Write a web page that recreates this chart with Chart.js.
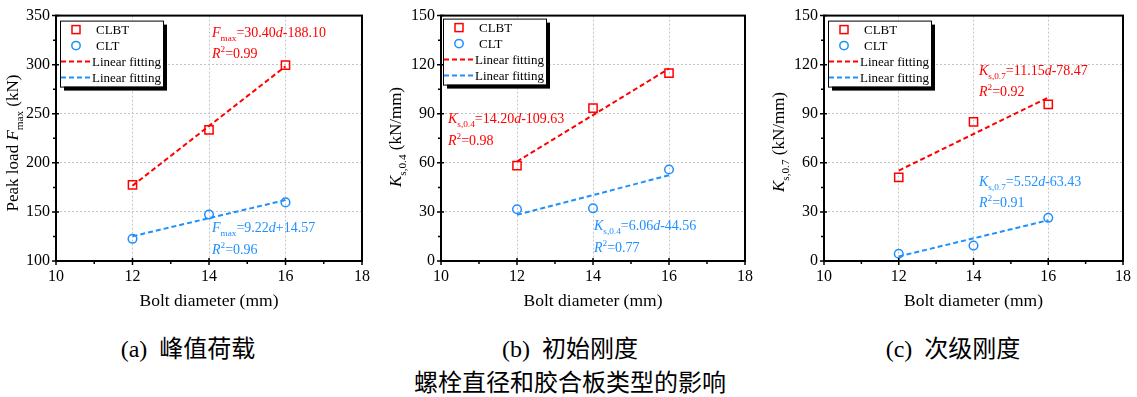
<!DOCTYPE html>
<html><head><meta charset="utf-8">
<script src="https://cdn.jsdelivr.net/npm/chart.js@4.4.1/dist/chart.umd.min.js"></script>
<style>
html,body{margin:0;padding:0;background:#fff;}
body{width:1137px;height:397px;position:relative;overflow:hidden;}
canvas{position:absolute;top:0;}
.cap{position:absolute;font-size:24px;line-height:30px;white-space:nowrap;transform:translateX(-50%);color:#000;}
.lat{font-family:"Liberation Serif";}
.cjk{font-family:"Noto Sans CJK SC";}
</style></head>
<body>
<canvas id="ca" width="379" height="318" style="left:0px"></canvas>
<canvas id="cb" width="379" height="318" style="left:380px"></canvas>
<canvas id="cc" width="377" height="318" style="left:760px"></canvas>
<div class="cap" style="left:188px;top:332px"><span class="lat">(a) </span><span class="cjk" style="margin-left:6px">峰值荷载</span></div>
<div class="cap" style="left:570px;top:332px"><span class="lat">(b) </span><span class="cjk" style="margin-left:6px">初始刚度</span></div>
<div class="cap" style="left:953px;top:332px"><span class="lat">(c) </span><span class="cjk" style="margin-left:6px">次级刚度</span></div>
<div class="cap cjk" style="left:570px;top:366px">螺栓直径和胶合板类型的影响</div>
<script>
// ---- data ----
const diameters = [12, 14, 16];
const fitX = [12, 16];
const xTicks = [10, 12, 14, 16, 18];
const peakTicks = [100, 150, 200, 250, 300, 350];
const stiffTicks = [0, 30, 60, 90, 120, 150];
const legendLabels = ['CLBT', 'CLT', 'Linear fitting', 'Linear fitting'];
const xTitle = 'Bolt diameter (mm)';

const peakCLBT = [177.6, 233.5, 299.6];
const peakCLT = [122.6, 147.3, 159.7];
const peakFitCLBT = [176.7, 298.3];
const peakFitCLT = [125.2, 162.1];

const k04CLBT = [58.3, 93.5, 114.8];
const k04CLT = [31.6, 32.2, 55.9];
const k04FitCLBT = [60.8, 117.6];
const k04FitCLT = [28.2, 52.4];

const k07CLBT = [51.1, 85.0, 95.7];
const k07CLT = [4.4, 9.4, 26.4];
const k07FitCLBT = [55.3, 99.9];
const k07FitCLT = [2.8, 24.9];

const RED = '#ff0000', BLUE = '#1e90ff';
const SERIF = '"Liberation Serif", "Times New Roman", serif';

function drawRich(ctx, segs, x, y, S, color, align) {
  let w = 0;
  const items = segs.map(s => {
    const size = (s.sub || s.sup) ? S * 0.66 : S;
    const font = (s.it ? 'italic ' : '') + size + 'px ' + SERIF;
    ctx.font = font;
    const mw = ctx.measureText(s.t).width;
    const dy = s.sub ? S * 0.3 : (s.sup ? -S * 0.4 : 0);
    w += mw;
    return {t: s.t, font, w: mw, dy};
  });
  let cx = align === 'center' ? x - w / 2 : x;
  ctx.fillStyle = color; ctx.textBaseline = 'alphabetic'; ctx.textAlign = 'left';
  for (const it of items) { ctx.font = it.font; ctx.fillText(it.t, cx, y + it.dy); cx += it.w; }
}

function mids(arr) { const r = []; for (let i = 0; i < arr.length - 1; i++) r.push((arr[i] + arr[i + 1]) / 2); return r; }

function makeDeco(cfg) {
  return {
    id: 'deco' + cfg.id,
    afterDraw(chart) {
      const ctx = chart.ctx, ca = chart.chartArea, sx = chart.scales.x, sy = chart.scales.y;
      ctx.save();
      // frame
      ctx.strokeStyle = '#000'; ctx.lineWidth = 2; ctx.setLineDash([]);
      ctx.strokeRect(ca.left, ca.top, ca.right - ca.left, ca.bottom - ca.top);
      ctx.lineWidth = 1.5;
      ctx.beginPath();
      xTicks.forEach(v => { const p = sx.getPixelForValue(v); ctx.moveTo(p, ca.bottom - 3); ctx.lineTo(p, ca.bottom + 4); });
      mids(xTicks).forEach(v => { const p = sx.getPixelForValue(v); ctx.moveTo(p, ca.bottom); ctx.lineTo(p, ca.bottom + 3); });
      cfg.yTicks.forEach(v => { const p = sy.getPixelForValue(v); ctx.moveTo(ca.left - 4, p); ctx.lineTo(ca.left + 3, p); });
      mids(cfg.yTicks).forEach(v => { const p = sy.getPixelForValue(v); ctx.moveTo(ca.left - 3, p); ctx.lineTo(ca.left, p); });
      ctx.stroke();
      // y title
      ctx.save();
      ctx.translate(cfg.ytX, cfg.ytY);
      ctx.rotate(-Math.PI / 2);
      drawRich(ctx, cfg.yTitle, 0, 17 * 0.35, 17, '#000', 'center');
      ctx.restore();
      // annotations
      cfg.notes.forEach(n => drawRich(ctx, n.segs, n.x, n.y, 14, n.color, 'left'));
      // legend
      const L = cfg.legend, bx = ca.left + L.dx, by = ca.top + L.dy, bw = 103, bh = 66;
      ctx.fillStyle = '#000'; ctx.fillRect(bx + 4, by + 4, bw, bh);
      ctx.fillStyle = '#fff'; ctx.fillRect(bx, by, bw, bh);
      ctx.strokeStyle = '#000'; ctx.lineWidth = 1; ctx.strokeRect(bx + 0.5, by + 0.5, bw, bh);
      const rows = [by + 9, by + 25, by + 41, by + 57];
      ctx.lineWidth = 1.5;
      ctx.strokeStyle = RED; ctx.strokeRect(bx + 12, rows[0] - 4, 8, 8);
      ctx.strokeStyle = BLUE; ctx.beginPath(); ctx.arc(bx + 16, rows[1], 4.2, 0, Math.PI * 2); ctx.stroke();
      ctx.lineWidth = 2; ctx.setLineDash([5, 3]);
      ctx.strokeStyle = RED; ctx.beginPath(); ctx.moveTo(bx + 1, rows[2]); ctx.lineTo(bx + 31, rows[2]); ctx.stroke();
      ctx.strokeStyle = BLUE; ctx.beginPath(); ctx.moveTo(bx + 1, rows[3]); ctx.lineTo(bx + 31, rows[3]); ctx.stroke();
      ctx.setLineDash([]);
      ctx.fillStyle = '#000'; ctx.font = '13px ' + SERIF; ctx.textBaseline = 'middle'; ctx.textAlign = 'left';
      legendLabels.forEach((t, i) => ctx.fillText(t, bx + (i < 2 ? 36 : 32), rows[i] + 1));
      ctx.restore();
    }
  };
}

function makeChart(cfg) {
  const pts = (xs, ys) => xs.map((x, i) => ({x, y: ys[i]}));
  return new Chart(document.getElementById(cfg.id), {
    type: 'scatter',
    data: {datasets: [
      {label: legendLabels[0], data: pts(diameters, cfg.clbt), pointStyle: 'rect', pointRadius: 5.8, pointBorderWidth: 1.5, borderColor: RED, pointBackgroundColor: 'rgba(0,0,0,0)', showLine: false},
      {label: legendLabels[1], data: pts(diameters, cfg.clt), pointStyle: 'circle', pointRadius: 4.3, pointBorderWidth: 1.5, borderColor: BLUE, pointBackgroundColor: 'rgba(0,0,0,0)', showLine: false},
      {label: legendLabels[2], data: pts(fitX, cfg.fitClbt), showLine: true, borderDash: [5, 3], borderWidth: 2, borderColor: RED, pointRadius: 0, tension: 0},
      {label: legendLabels[3], data: pts(fitX, cfg.fitClt), showLine: true, borderDash: [5, 3], borderWidth: 2, borderColor: BLUE, pointRadius: 0, tension: 0}
    ]},
    options: {
      responsive: false, animation: false, events: [],
      layout: {padding: {left: 0, top: cfg.top, right: cfg.right, bottom: 6}},
      plugins: {legend: {display: false}, tooltip: {enabled: false}},
      scales: {
        x: {
          type: 'linear', min: xTicks[0], max: xTicks[xTicks.length - 1],
          afterBuildTicks: s => { s.ticks = xTicks.map(v => ({value: v})); },
          grid: {color: '#c4c4c4', lineWidth: 1, drawTicks: false},
          border: {display: false, dash: [2, 2]},
          ticks: {font: {family: SERIF, size: 16}, color: '#000', padding: 6, maxRotation: 0},
          title: {display: true, text: xTitle, font: {family: SERIF, size: 17.5}, color: '#000', padding: 0},
          afterFit: s => { s.height = 51; }
        },
        y: {
          type: 'linear', min: cfg.yTicks[0], max: cfg.yTicks[cfg.yTicks.length - 1],
          afterBuildTicks: s => { s.ticks = cfg.yTicks.map(v => ({value: v})); },
          grid: {color: '#c4c4c4', lineWidth: 1, drawTicks: false},
          border: {display: false, dash: [2, 2]},
          ticks: {font: {family: SERIF, size: 16}, color: '#000', padding: 6},
          afterFit: s => { s.width = cfg.yw; }
        }
      }
    },
    plugins: [makeDeco(cfg)]
  });
}

makeChart({
  id: 'ca', top: 14, right: 17, yw: 56, yTicks: peakTicks,
  clbt: peakCLBT, clt: peakCLT, fitClbt: peakFitCLBT, fitClt: peakFitCLT,
  ytX: 12, ytY: 143,
  yTitle: [{t: 'Peak load '}, {t: 'F', it: 1}, {t: 'max', sub: 1}, {t: ' (kN)'}],
  legend: {dx: 4, dy: 5},
  notes: [
    {x: 212, y: 37, color: RED, segs: [{t: 'F', it: 1}, {t: 'max', sub: 1}, {t: '=30.40'}, {t: 'd', it: 1}, {t: '-188.10'}]},
    {x: 212, y: 58, color: RED, segs: [{t: 'R', it: 1}, {t: '2', sup: 1}, {t: '=0.99'}]},
    {x: 212, y: 232, color: BLUE, segs: [{t: 'F', it: 1}, {t: 'max', sub: 1}, {t: '=9.22'}, {t: 'd', it: 1}, {t: '+14.57'}]},
    {x: 212, y: 254, color: BLUE, segs: [{t: 'R', it: 1}, {t: '2', sup: 1}, {t: '=0.96'}]}
  ]
});

makeChart({
  id: 'cb', top: 12, right: 14, yw: 61, yTicks: stiffTicks,
  clbt: k04CLBT, clt: k04CLT, fitClbt: k04FitCLBT, fitClt: k04FitCLT,
  ytX: 15, ytY: 137,
  yTitle: [{t: 'K', it: 1}, {t: 's,0.4', sub: 1}, {t: ' (kN/mm)'}],
  legend: {dx: 2, dy: 3},
  notes: [
    {x: 68, y: 123, color: RED, segs: [{t: 'K', it: 1}, {t: 's,0.4', sub: 1}, {t: '=14.20'}, {t: 'd', it: 1}, {t: '-109.63'}]},
    {x: 68, y: 145, color: RED, segs: [{t: 'R', it: 1}, {t: '2', sup: 1}, {t: '=0.98'}]},
    {x: 214, y: 230, color: BLUE, segs: [{t: 'K', it: 1}, {t: 's,0.4', sub: 1}, {t: '=6.06'}, {t: 'd', it: 1}, {t: '-44.56'}]},
    {x: 214, y: 252, color: BLUE, segs: [{t: 'R', it: 1}, {t: '2', sup: 1}, {t: '=0.77'}]}
  ]
});

makeChart({
  id: 'cc', top: 12, right: 10, yw: 64, yTicks: stiffTicks,
  clbt: k07CLBT, clt: k07CLT, fitClbt: k07FitCLBT, fitClt: k07FitCLT,
  ytX: 18, ytY: 142,
  yTitle: [{t: 'K', it: 1}, {t: 's,0.7', sub: 1}, {t: ' (kN/mm)'}],
  legend: {dx: 4, dy: 5},
  notes: [
    {x: 219, y: 75, color: RED, segs: [{t: 'K', it: 1}, {t: 's,0.7', sub: 1}, {t: '=11.15'}, {t: 'd', it: 1}, {t: '-78.47'}]},
    {x: 219, y: 96, color: RED, segs: [{t: 'R', it: 1}, {t: '2', sup: 1}, {t: '=0.92'}]},
    {x: 219, y: 186, color: BLUE, segs: [{t: 'K', it: 1}, {t: 's,0.7', sub: 1}, {t: '=5.52'}, {t: 'd', it: 1}, {t: '-63.43'}]},
    {x: 219, y: 207, color: BLUE, segs: [{t: 'R', it: 1}, {t: '2', sup: 1}, {t: '=0.91'}]}
  ]
});
</script>
</body></html>
